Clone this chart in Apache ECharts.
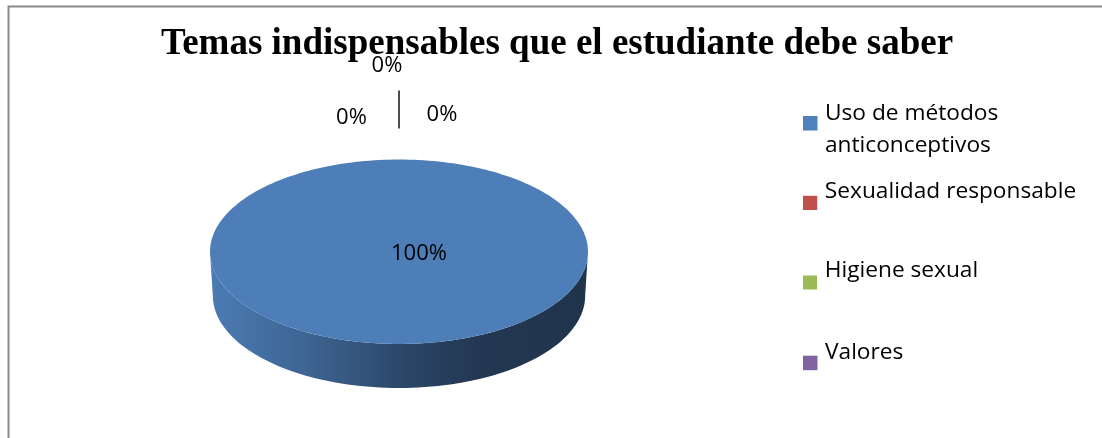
<!DOCTYPE html>
<html lang="es">
<head>
    <meta charset="utf-8">
    <script src="https://cdn.jsdelivr.net/npm/echarts@6/dist/echarts.min.js"></script>
</head>
<body style="margin: 0; background: #fff">
<div id="container" style="width: 1102px; height: 438px"></div>
<script type="text/javascript">
    // datos del gráfico
    var categories = ['Uso de métodos\nanticonceptivos', 'Sexualidad responsable', 'Higiene sexual', 'Valores'];
    var values = [100, 0, 0, 0];
    var colors = ['#4f81bd', '#c0504d', '#9bbb59', '#8064a2'];

    // posiciones de etiquetas y leyenda (solo maquetación)
    var labelOffsets = [[20, 2], [-47.5, -42], [43, -45], [-12, -93.5]];
    var legendTops = [97.5, 173, 252.5, 334.5];
    var iconTops = [5, 23.2, 23.7, 21.2];
    var depth = 44;

    var total = values.reduce(function (a, b) { return a + b; }, 0);
    var angles = [];
    var acc = 0;
    values.forEach(function (v) {
        var a0 = acc / total * 360;
        acc += v;
        angles.push([a0, acc / total * 360]);
    });

    // oscurecer un color multiplicando sus canales
    function shade(c, f) {
        var a = echarts.color.parse(c);
        return 'rgb(' + Math.round(a[0] * f) + ',' + Math.round(a[1] * f) + ',' + Math.round(a[2] * f) + ')';
    }

    function makeRender(idx) {
        return function (params, api) {
            var a0 = api.value(0) * Math.PI / 180;
            var a1 = api.value(1) * Math.PI / 180;
            var color = api.visual('color');
            var pct = Math.round(api.value(2) / total * 100) + '%';
            var c = api.coord([0, 0]);
            var children = [];
            if (a1 > a0) {
                // pared lateral (solo la mitad de delante)
                var s0 = Math.max(a0, Math.PI / 2), s1 = Math.min(a1, Math.PI * 1.5);
                if (s1 > s0) {
                    var topPts = [], botPts = [];
                    for (var k = 0; k <= 90; k++) {
                        var t = s0 + (s1 - s0) * k / 90;
                        topPts.push(api.coord([Math.sin(t), Math.cos(t)]));
                        var b = api.coord([Math.sin(t) * 0.985, Math.cos(t)]);
                        botPts.push([b[0], b[1] + depth]);
                    }
                    children.push({
                        type: 'polygon',
                        shape: {points: topPts.concat(botPts.reverse())},
                        style: {
                            fill: new echarts.graphic.LinearGradient(0, 0, 1, 0, [
                                {offset: 0, color: shade(color, 0.95)},
                                {offset: 0.25, color: shade(color, 0.78)},
                                {offset: 0.5, color: shade(color, 0.56)},
                                {offset: 0.72, color: shade(color, 0.43)},
                                {offset: 1, color: shade(color, 0.4)}
                            ])
                        }
                    });
                }
                // cara superior
                var pts = (a1 - a0) < Math.PI * 2 ? [c] : [];
                var n = Math.max(2, Math.ceil((a1 - a0) / (Math.PI / 120)));
                for (var j = 0; j <= n; j++) {
                    var u = a0 + (a1 - a0) * j / n;
                    pts.push(api.coord([Math.sin(u), Math.cos(u)]));
                }
                children.push({type: 'polygon', shape: {points: pts}, style: {fill: shade(color, 0.975)}});
            }
            var anchor = a1 > a0 ? c : api.coord([Math.sin(a0), Math.cos(a0)]);
            var off = labelOffsets[idx];
            if (idx === 3) {
                children.push({
                    type: 'line',
                    shape: {x1: anchor[0], y1: anchor[1] - 31, x2: anchor[0], y2: anchor[1] - 69},
                    style: {stroke: '#111', lineWidth: 1.5}
                });
            }
            children.push({
                type: 'text',
                style: {
                    text: pct, x: anchor[0] + off[0], y: anchor[1] + off[1],
                    fill: '#000', font: '22px "Open Sans"', align: 'center', verticalAlign: 'middle'
                }
            });
            return {type: 'group', children: children};
        };
    }

    var myChart = echarts.init(document.getElementById('container'));
    var option = {
        animation: false,
        title: {
            text: 'Temas indispensables que el estudiante debe saber',
            left: 552,
            top: 21,
            textAlign: 'center',
            textStyle: {fontFamily: 'Liberation Serif', fontWeight: 'bold', fontSize: 37, color: '#000'}
        },
        graphic: [{
            type: 'rect',
            shape: {x: 8.5, y: 6.5, width: 1200, height: 600},
            style: {fill: null, stroke: '#8a8a8a', lineWidth: 2}
        }],
        legend: categories.map(function (name, i) {
            return {
                data: [{name: name, icon: 'path://M0,0L0,0M17,37L17,37M0,' + iconTops[i] + 'h14.5v14.5h-14.5z'}],
                orient: 'vertical',
                left: 803,
                top: legendTops[i],
                padding: 0,
                itemWidth: 17,
                itemHeight: 37,
                selectedMode: false,
                textStyle: {fontFamily: 'Open Sans', fontSize: 22.7, lineHeight: 32, color: '#000'}
            };
        }),
        grid: {left: 210, right: 514, top: 159.5, height: 184.5},
        xAxis: {type: 'value', min: -1, max: 1, show: false},
        yAxis: {type: 'value', min: -1, max: 1, show: false},
        series: categories.map(function (name, i) {
            return {
                type: 'custom',
                name: name,
                coordinateSystem: 'cartesian2d',
                clip: false,
                silent: true,
                itemStyle: {color: colors[i]},
                renderItem: makeRender(i),
                data: [[angles[i][0], angles[i][1], values[i]]]
            };
        })
    };
    myChart.setOption(option);
</script>
</body>
</html>
